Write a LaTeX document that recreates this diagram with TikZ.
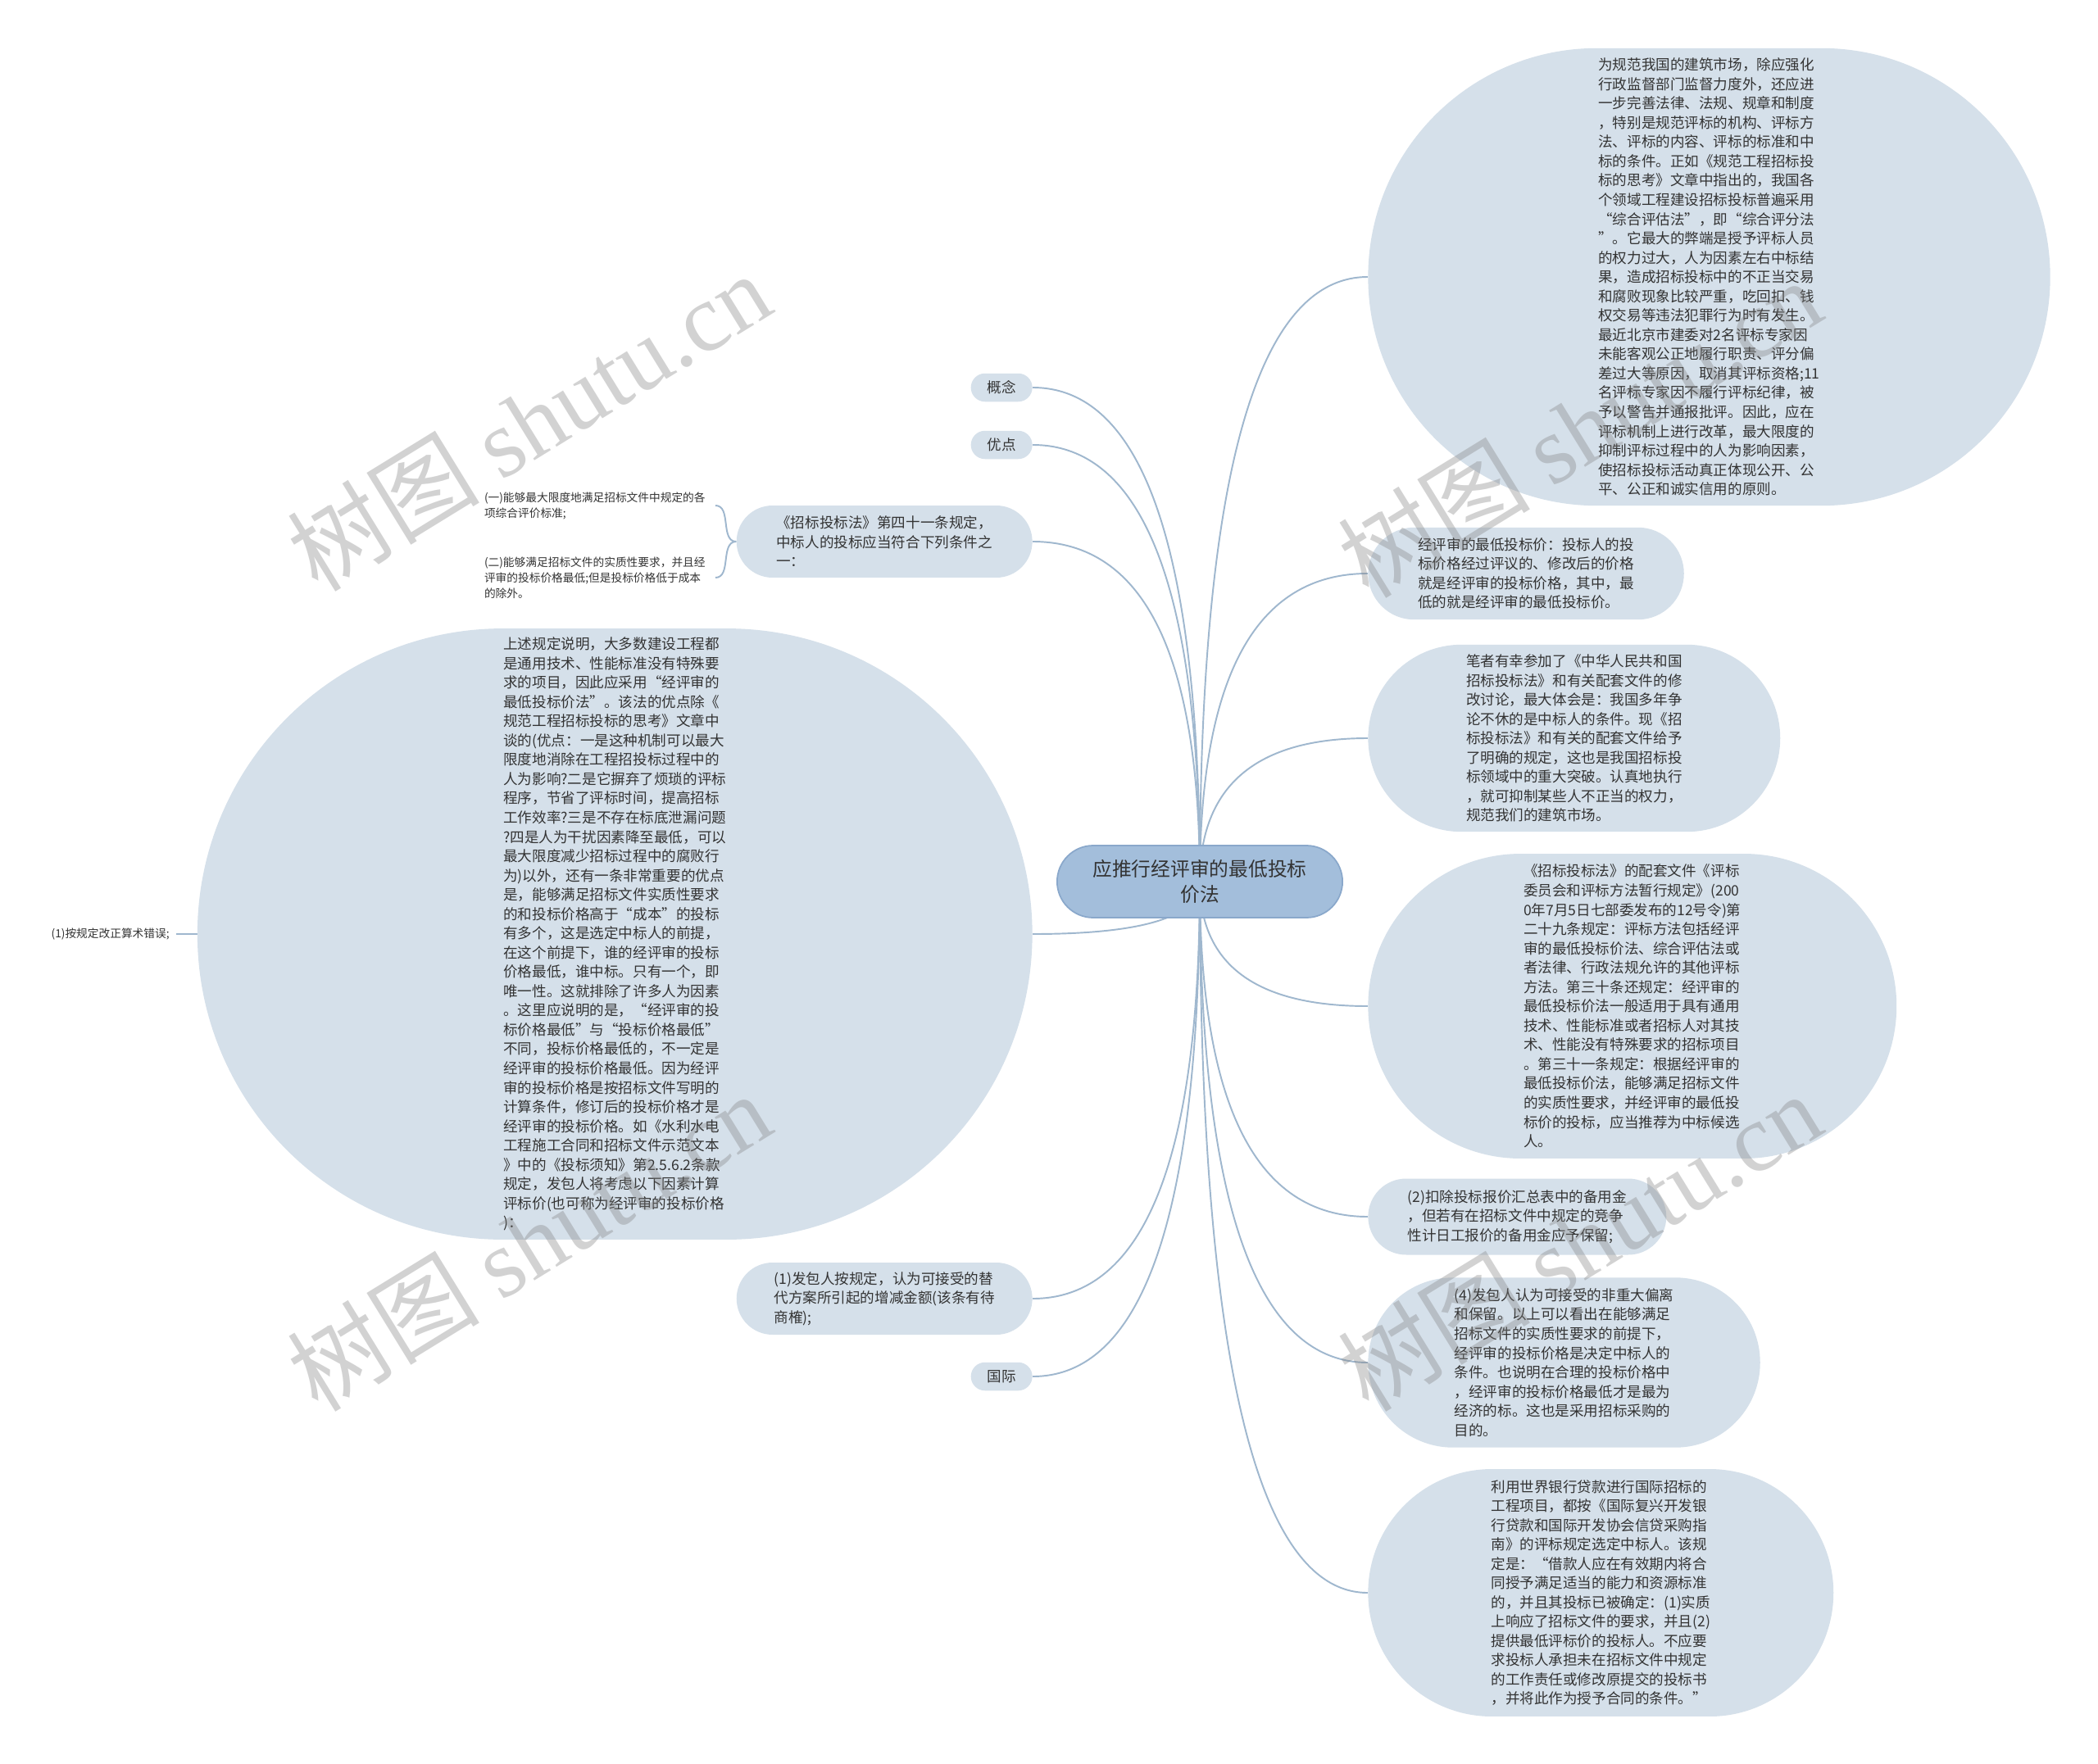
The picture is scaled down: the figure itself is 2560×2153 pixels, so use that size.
\documentclass[tikz,border=0pt]{standalone}
\usepackage{fontspec}
\setmainfont{Noto Sans CJK SC}
\newfontfamily\markfont{Liberation Serif}
\usetikzlibrary{shapes.misc,calc,backgrounds}
\definecolor{leaffill}{HTML}{D5E0EA}
\definecolor{rootfill}{HTML}{A3BEDB}
\definecolor{rootdraw}{HTML}{8AA8CB}
\definecolor{linkcol}{HTML}{9FB7CE}
\definecolor{inkcol}{HTML}{333333}

\begin{document}
\begin{tikzpicture}[x=0.02cm, y=-0.02cm,
  leaf/.style={rounded rectangle, fill=leaffill, inner sep=0pt, align=left, text=inkcol, font=\fontsize{10}{13.4}\selectfont},
  tag/.style={leaf, align=center, minimum width=1.5cm, minimum height=0.69cm},
  root/.style={rounded rectangle, fill=rootfill, draw=rootdraw, line width=1pt, align=center, text=inkcol,
    minimum width=7.2cm, minimum height=1.76cm, font=\fontsize{13.5}{17.6}\selectfont},
  note/.style={align=left, inner ysep=0pt, inner xsep=0.24cm, text=inkcol, font=\fontsize{7.8}{10.8}\selectfont},
  link/.style={draw=linkcol, line width=1.1pt},
  branch/.style={to path={.. controls ($(\tikztostart)!2/3!(\tikztostart |- \tikztotarget)$) and ($(\tikztotarget)!2/3!(\tikztostart |- \tikztotarget)$) .. (\tikztotarget)}},
  wmark/.style={rotate=31.6, text=gray, opacity=0.35, inner sep=0pt, font=\fontsize{67}{67}\selectfont}]

  % centre
  \node (ctr) [root] at (1464,1076) {应推行经评审的最低投标\\价法};

  % left side
  \node (gn) [tag, anchor=east] at (1260,473) {概念};
  \node (yd) [tag, anchor=east] at (1260,543) {优点};
  \node (tb41) [leaf, anchor=east, minimum width=7.22cm, minimum height=1.76cm] at (1260,661)
    {《招标投标法》第四十一条规定，\\中标人的投标应当符合下列条件之\\一：};
  \node (yi) [note, anchor=east] at (873,617)
    {(一)能够最大限度地满足招标文件中规定的各\\项综合评价标准;};
  \node (er) [note, anchor=east] at (873,705)
    {(二)能够满足招标文件的实质性要求，并且经\\评审的投标价格最低;但是投标价格低于成本\\的除外。};
  \node (big) [leaf, anchor=east, minimum width=20.38cm, minimum height=14.92cm] at (1260,1140)
    {上述规定说明，大多数建设工程都\\是通用技术、性能标准没有特殊要\\求的项目，因此应采用“经评审的\\最低投标价法”。该法的优点除《\\规范工程招标投标的思考》文章中\\谈的(优点：一是这种机制可以最大\\限度地消除在工程招投标过程中的\\人为影响?二是它摒弃了烦琐的评标\\程序，节省了评标时间，提高招标\\工作效率?三是不存在标底泄漏问题\\?四是人为干扰因素降至最低，可以\\最大限度减少招标过程中的腐败行\\为)以外，还有一条非常重要的优点\\是，能够满足招标文件实质性要求\\的和投标价格高于“成本”的投标\\有多个，这是选定中标人的前提，\\在这个前提下，谁的经评审的投标\\价格最低，谁中标。只有一个，即\\唯一性。这就排除了许多人为因素\\。这里应说明的是，“经评审的投\\标价格最低”与“投标价格最低”\\不同，投标价格最低的，不一定是\\经评审的投标价格最低。因为经评\\审的投标价格是按招标文件写明的\\计算条件，修订后的投标价格才是\\经评审的投标价格。如《水利水电\\工程施工合同和招标文件示范文本\\》中的《投标须知》第2.5.6.2条款\\规定，发包人将考虑以下因素计算\\评标价(也可称为经评审的投标价格\\)：};
  \node (sf) [note, anchor=east, inner xsep=0.16cm] at (215,1140) {(1)按规定改正算术错误;};
  \node (fb1) [leaf, anchor=east, minimum width=7.22cm, minimum height=1.76cm] at (1260,1585)
    {(1)发包人按规定，认为可接受的替\\代方案所引起的增减金额(该条有待\\商榷);};
  \node (gj) [tag, anchor=east] at (1260,1680) {国际};

  % right side
  \node (tr) [leaf, anchor=west, minimum width=16.65cm, minimum height=11.17cm] at (1669,338)
    {为规范我国的建筑市场，除应强化\\行政监督部门监督力度外，还应进\\一步完善法律、法规、规章和制度\\，特别是规范评标的机构、评标方\\法、评标的内容、评标的标准和中\\标的条件。正如《规范工程招标投\\标的思考》文章中指出的，我国各\\个领域工程建设招标投标普遍采用\\“综合评估法”，即“综合评分法\\”。它最大的弊端是授予评标人员\\的权力过大，人为因素左右中标结\\果，造成招标投标中的不正当交易\\和腐败现象比较严重，吃回扣、钱\\权交易等违法犯罪行为时有发生。\\最近北京市建委对2名评标专家因\\未能客观公正地履行职责、评分偏\\差过大等原因，取消其评标资格;11\\名评标专家因不履行评标纪律，被\\予以警告并通报批评。因此，应在\\评标机制上进行改革，最大限度的\\抑制评标过程中的人为影响因素，\\使招标投标活动真正体现公开、公\\平、公正和诚实信用的原则。};
  \node (jps) [leaf, anchor=west, minimum width=7.71cm, minimum height=2.25cm] at (1669,700)
    {经评审的最低投标价：投标人的投\\标价格经过评议的、修改后的价格\\就是经评审的投标价格，其中，最\\低的就是经评审的最低投标价。};
  \node (bz) [leaf, anchor=west, minimum width=10.06cm, minimum height=4.57cm] at (1669,901)
    {笔者有幸参加了《中华人民共和国\\招标投标法》和有关配套文件的修\\改讨论，最大体会是：我国多年争\\论不休的是中标人的条件。现《招\\标投标法》和有关的配套文件给予\\了明确的规定，这也是我国招标投\\标领域中的重大突破。认真地执行\\，就可抑制某些人不正当的权力，\\规范我们的建筑市场。};
  \node (pt) [leaf, anchor=west, minimum width=12.9cm, minimum height=7.44cm] at (1669,1228)
    {《招标投标法》的配套文件《评标\\委员会和评标方法暂行规定》(200\\0年7月5日七部委发布的12号令)第\\二十九条规定：评标方法包括经评\\审的最低投标价法、综合评估法或\\者法律、行政法规允许的其他评标\\方法。第三十条还规定：经评审的\\最低投标价法一般适用于具有通用\\技术、性能标准或者招标人对其技\\术、性能没有特殊要求的招标项目\\。第三十一条规定：根据经评审的\\最低投标价法，能够满足招标文件\\的实质性要求，并经评审的最低投\\标价的投标，应当推荐为中标候选\\人。};
  \node (kc) [leaf, anchor=west, minimum width=7.28cm, minimum height=1.86cm] at (1669,1485)
    {(2)扣除投标报价汇总表中的备用金\\，但若有在招标文件中规定的竞争\\性计日工报价的备用金应予保留;};
  \node (fb4) [leaf, anchor=west, minimum width=9.57cm, minimum height=4.15cm] at (1669,1663)
    {(4)发包人认为可接受的非重大偏离\\和保留。以上可以看出在能够满足\\招标文件的实质性要求的前提下，\\经评审的投标价格是决定中标人的\\条件。也说明在合理的投标价格中\\，经评审的投标价格最低才是最为\\经济的标。这也是采用招标采购的\\目的。};
  \node (sj) [leaf, anchor=west, minimum width=11.36cm, minimum height=6.04cm] at (1669,1944)
    {利用世界银行贷款进行国际招标的\\工程项目，都按《国际复兴开发银\\行贷款和国际开发协会信贷采购指\\南》的评标规定选定中标人。该规\\定是：“借款人应在有效期内将合\\同授予满足适当的能力和资源标准\\的，并且其投标已被确定：(1)实质\\上响应了招标文件的要求，并且(2)\\提供最低评标价的投标人。不应要\\求投标人承担未在招标文件中规定\\的工作责任或修改原提交的投标书\\，并将此作为授予合同的条件。”};

  % watermarks
  \node (wm1) [wmark] at (645,514) {树图 {\markfont shutu.cn}};
  \node (wm2) [wmark] at (1927,522) {树图 {\markfont shutu.cn}};
  \node (wm3) [wmark] at (645,1515) {树图 {\markfont shutu.cn}};
  \node (wm4) [wmark] at (1927,1515) {树图 {\markfont shutu.cn}};

  \begin{scope}[on background layer]
    \fill[white] (0,0) rectangle (2560,2153);
    \draw[link] (ctr.center) to[branch] (gn.east);
    \draw[link] (ctr.center) to[branch] (yd.east);
    \draw[link] (ctr.center) to[branch] (tb41.east);
    \draw[link] (ctr.center) to[branch] (big.east);
    \draw[link] (ctr.center) to[branch] (fb1.east);
    \draw[link] (ctr.center) to[branch] (gj.east);
    \draw[link] (ctr.center) to[branch] (tr.west);
    \draw[link] (ctr.center) to[branch] (jps.west);
    \draw[link] (ctr.center) to[branch] (bz.west);
    \draw[link] (ctr.center) to[branch] (pt.west);
    \draw[link] (ctr.center) to[branch] (kc.west);
    \draw[link] (ctr.center) to[branch] (fb4.west);
    \draw[link] (ctr.center) to[branch] (sj.west);
    \draw[link] (tb41.west) to[out=180, in=0] (yi.east);
    \draw[link] (tb41.west) to[out=180, in=0] (er.east);
    \draw[link] (big.west) -- (sf.east);
  \end{scope}
  \useasboundingbox (0,0) rectangle (2560,2153);
\end{tikzpicture}
\end{document}
